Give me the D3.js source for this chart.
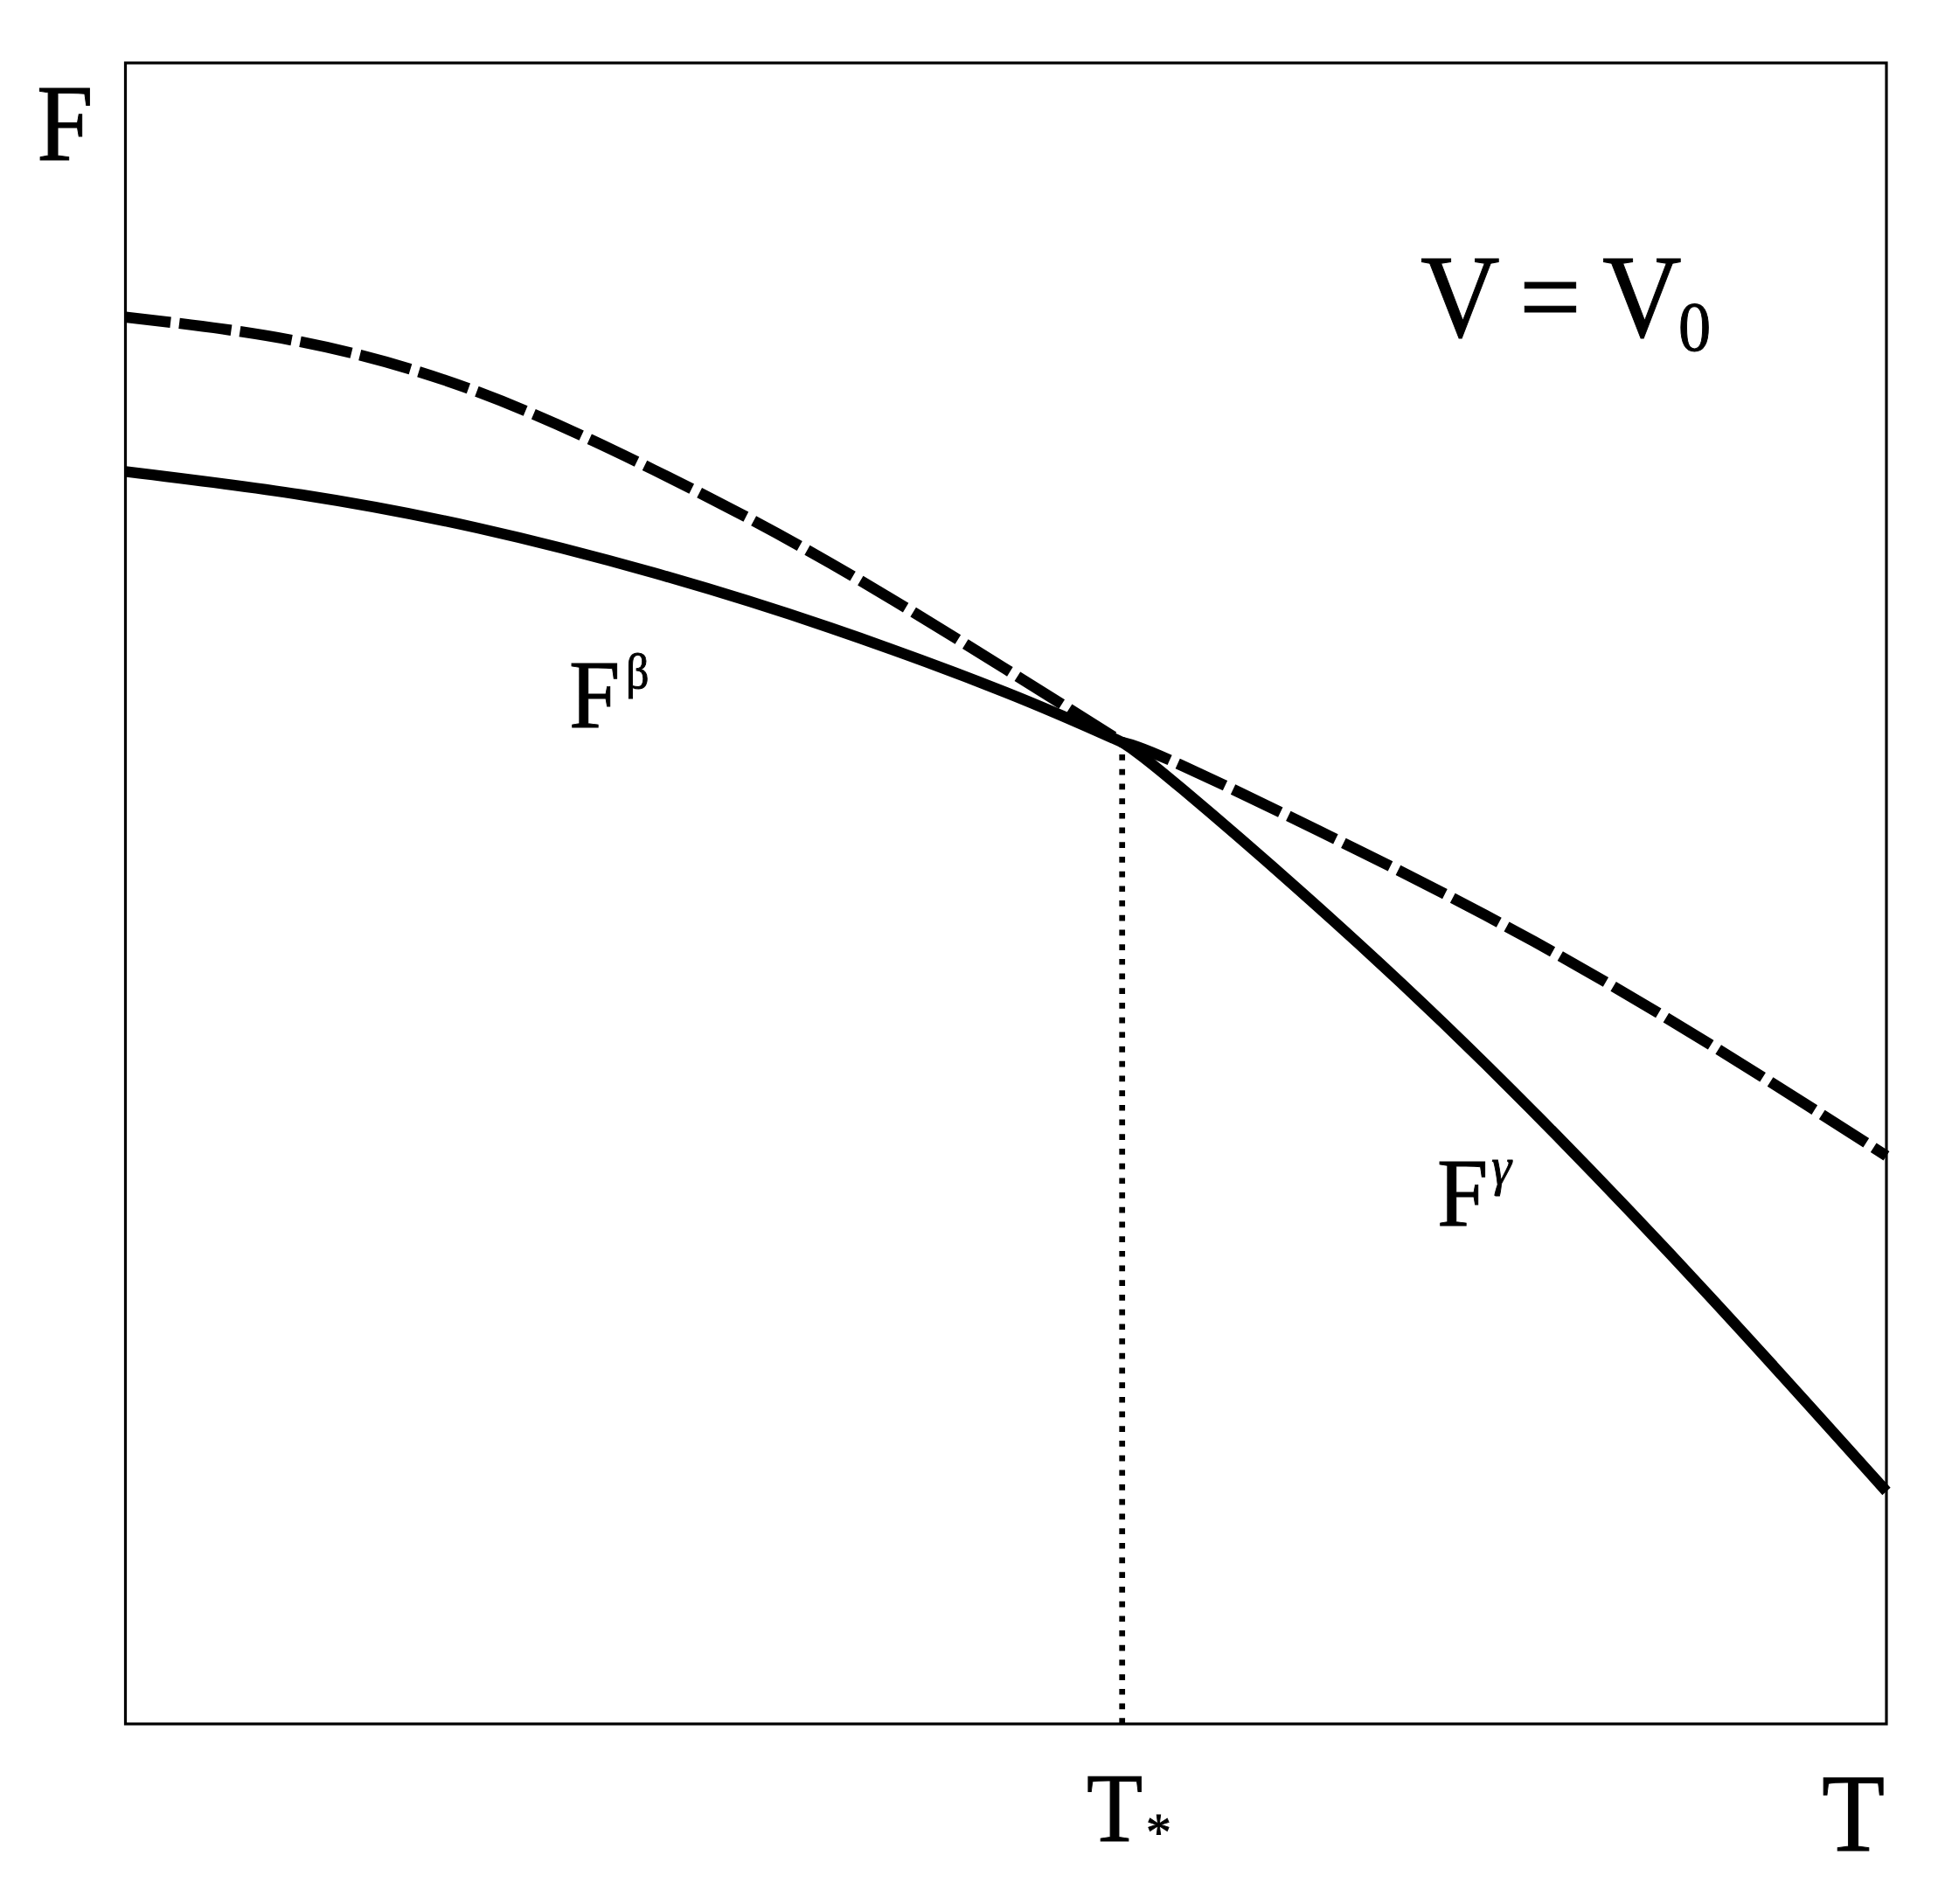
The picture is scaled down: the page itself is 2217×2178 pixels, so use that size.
<!DOCTYPE html>
<html>
<head>
<meta charset="utf-8">
<script src="https://cdn.jsdelivr.net/npm/d3@7"></script>
<style>
  body { margin: 0; background: #fff; }
</style>
</head>
<body>
<svg id="chart" width="2217" height="2178"></svg>
<script>
// temperature grid (fraction of axis) and free energy
var T = [0, 0.1, 0.2, 0.3, 0.4, 0.5, 0.566, 0.6, 0.7, 0.8, 0.9, 1.0]
var Fbeta = [0.754, 0.740, 0.720, 0.693, 0.660, 0.621, 0.591, 0.577, 0.526, 0.471, 0.409, 0.342]
var Fgamma = [0.847, 0.832, 0.802, 0.755, 0.699, 0.635, 0.591, 0.563, 0.470, 0.368, 0.257, 0.140]
var Tstar = 0.566

// labels
var axisLabels = ["F", "T"]
var branchLabels = [["F", "β"], ["F", "γ"]]
var starLabel = ["T", "*"]
var volLabel = ["V", "=", "V", "0"]

var svg = d3.select("#chart")

var x = d3.scaleLinear().domain([0, 1]).range([143.5, 2158])
var y = d3.scaleLinear().domain([0, 1]).range([1972, 72])

var beta = T.map(function(t, i){ return [t, Fbeta[i]] })
var gamma = T.map(function(t, i){ return [t, Fgamma[i]] })

var line = d3.line()
    .x(function(d){ return x(d[0]) })
    .y(function(d){ return y(d[1]) })
    .curve(d3.curveNatural)

// join two branches at T* keeping the kink, as one path
function joined(left, right){
    var a = line(left.filter(function(d){ return d[0] <= Tstar }))
    var b = line(right.filter(function(d){ return d[0] >= Tstar }))
    return a + "L" + b.slice(1)
}

// frame
svg.append("rect")
    .attr("x", x(0)).attr("y", y(1))
    .attr("width", x(1) - x(0)).attr("height", y(0) - y(1))
    .attr("fill", "none")
    .attr("stroke", "#000")
    .attr("stroke-width", 3.2)

// T* marker
svg.append("line")
    .attr("x1", x(Tstar)).attr("x2", x(Tstar))
    .attr("y1", y(Fbeta[T.indexOf(Tstar)]) + 14).attr("y2", y(0))
    .attr("stroke", "#000")
    .attr("stroke-width", 6.7)
    .attr("stroke-dasharray", "6.7,10")

// metastable branches (dashed)
svg.append("path")
    .attr("d", joined(gamma, beta))
    .attr("fill", "none")
    .attr("stroke", "#000")
    .attr("stroke-width", 12.5)
    .attr("stroke-dasharray", "60,10")
    .attr("stroke-dashoffset", 8)

// stable branches (solid)
svg.append("path")
    .attr("d", joined(beta, gamma))
    .attr("fill", "none")
    .attr("stroke", "#000")
    .attr("stroke-width", 12.5)

// text, slightly narrowed like the original typesetting
function label(px, py, size){
    return svg.append("text")
        .attr("transform", "translate(" + px + "," + py + ") scale(0.93,1)")
        .attr("font-family", "'Liberation Serif', 'Times New Roman', serif")
        .attr("font-size", size)
        .attr("fill", "#000")
        .attr("stroke", "#000")
        .attr("stroke-width", 1)
}

label(42, 183, 125).text(axisLabels[0])
label(2084, 2117, 127).text(axisLabels[1])

var ts = label(1243, 2106, 113)
ts.append("tspan").text(starLabel[0])
ts.append("tspan").attr("font-size", 62).attr("dx", 4).attr("dy", 10).text(starLabel[1])

var fb = label(651, 832, 113)
fb.append("tspan").text(branchLabels[0][0])
fb.append("tspan").attr("font-size", 56).attr("dx", 7).attr("dy", -45).text(branchLabels[0][1])

var fg = label(1644, 1402, 113)
fg.append("tspan").text(branchLabels[1][0])
fg.append("tspan").attr("font-size", 62).attr("font-style", "italic")
    .attr("dx", 4).attr("dy", -47).text(branchLabels[1][1])

label(1625, 385, 135).text(volLabel[0])
label(1738, 385, 135).text(volLabel[1])
label(1833, 385, 135).text(volLabel[2])
label(1920, 401, 80).text(volLabel[3])
</script>
</body>
</html>
